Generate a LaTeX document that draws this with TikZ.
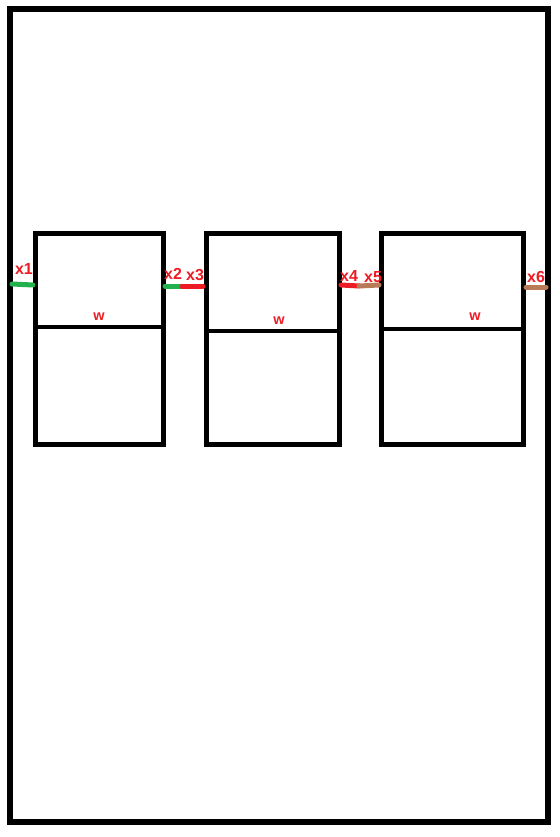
\documentclass[tikz,border=0pt]{standalone}
\usepackage{fontspec}
\setmainfont{Liberation Sans}
\definecolor{pred}{HTML}{ED1C24}
\definecolor{pgreen}{HTML}{22B14C}
\definecolor{pbrown}{HTML}{B97A57}
\begin{document}
\begin{tikzpicture}[x=1pt,y=-1pt,
  frame/.style={draw=black,line width=5.5pt},
  cell/.style={draw=black,line width=5pt},
  divline/.style={draw=black,line width=4.5pt},
  wire/.style={line width=5pt,line cap=round},
  lbl/.style={text=pred,font=\bfseries\fontsize{16}{16}\selectfont,inner sep=0pt},
  wlbl/.style={text=pred,font=\bfseries\fontsize{14.5}{14.5}\selectfont,inner sep=0pt}]
\useasboundingbox (0,0) rectangle (559,837);
\fill[white] (0,0) rectangle (559,837);
% outer frame
\draw[frame] (10,9) rectangle (548,822);
% boxes
\draw[cell] (35,233) rectangle (163,444);
\draw[divline] (35,327) -- (166,327);
\draw[cell] (206,233) rectangle (339,444);
\draw[divline] (206,331) -- (337,331);
\draw[cell] (381,233) rectangle (523,444);
\draw[divline] (381,329) -- (523,329);
% small mark near x1
\draw[black,line width=3pt] (36,263) -- (36,276);
% coordinates for connectors
\coordinate (a1) at (12,284);
\coordinate (a2) at (33,285);
\coordinate (b1) at (165,286);
\coordinate (b2) at (182,286);
\coordinate (b3) at (203,286);
\coordinate (c1) at (341,285);
\coordinate (c2) at (359,286);
\coordinate (c3) at (379,285);
\coordinate (d1) at (526,287);
\coordinate (d2) at (546,287);
\draw[wire,pgreen] (a1) -- (a2);
\draw[wire,pgreen] (b1) -- (b2);
\draw[wire,pred] (b2) -- (b3);
\draw[wire,pred] (c1) -- (c2);
\draw[wire,pbrown] (c2) -- (c3);
\draw[wire,pbrown] (d1) -- (d2);
% labels
\node[lbl] (x1) at (24,269) {x1};
\node[lbl] (x2) at (173,274) {x2};
\node[lbl] (x3) at (195,275) {x3};
\node[lbl] (x4) at (349,276) {x4};
\node[lbl] (x5) at (373,277) {x5};
\node[lbl] (x6) at (536,277) {x6};
\node[wlbl] (w1) at (99,317) {w};
\node[wlbl] (w2) at (279,321) {w};
\node[wlbl] (w3) at (475,317) {w};
\end{tikzpicture}
\end{document}
